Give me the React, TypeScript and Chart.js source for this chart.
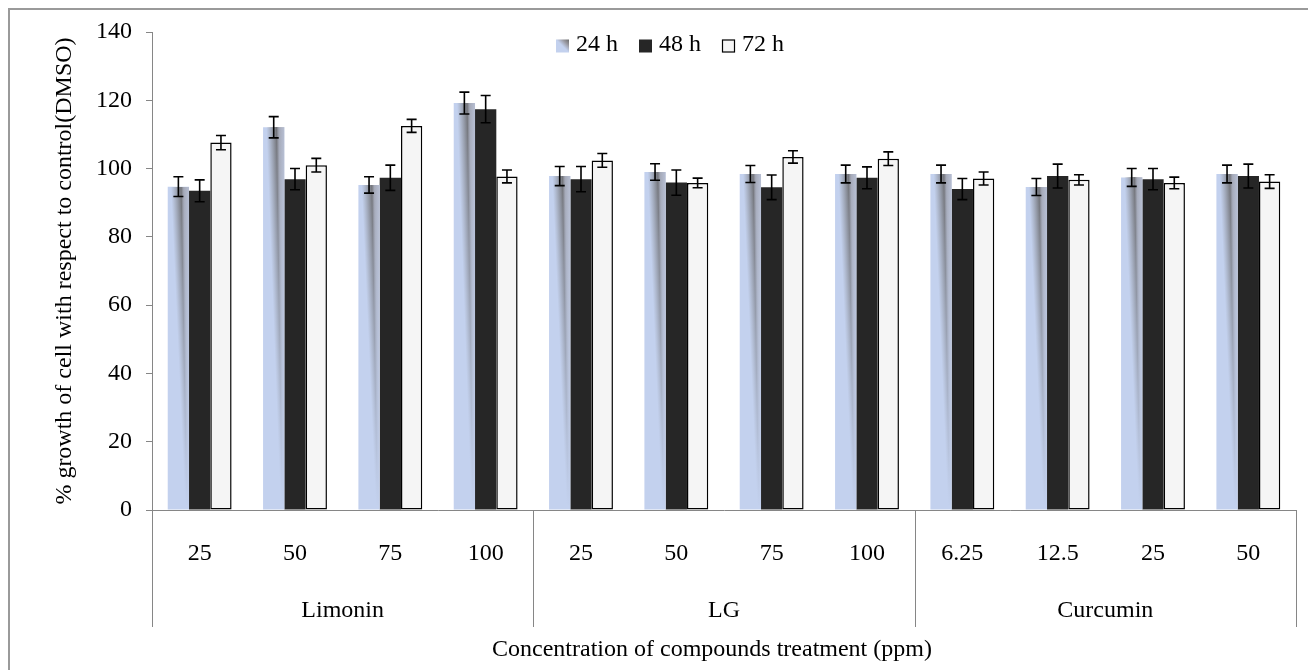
import { useEffect, useRef } from 'react';
import { Chart, registerables } from 'chart.js';

Chart.register(...registerables);

// ---------------- data ----------------
const groupNames = ['Limonin', 'LG', 'Curcumin'];
const groupSizes = [4, 4, 4];
const concentrations = ['25', '50', '75', '100', '25', '50', '75', '100', '6.25', '12.5', '25', '50'];
const seriesLabels = ['24 h', '48 h', '72 h'];

const values24 = [94.7, 112.1, 95.2, 119.2, 97.8, 99.0, 98.4, 98.4, 98.4, 94.6, 97.4, 98.4];
const errors24 = [2.9, 3.1, 2.4, 3.2, 2.8, 2.4, 2.5, 2.6, 2.6, 2.5, 2.6, 2.6];
const values48 = [93.5, 96.9, 97.3, 117.4, 96.9, 95.9, 94.5, 97.3, 94.0, 97.8, 96.9, 97.8];
const errors48 = [3.2, 3.1, 3.7, 4.0, 3.7, 3.7, 3.6, 3.2, 3.1, 3.5, 3.1, 3.5];
const values72 = [107.6, 101.0, 112.5, 97.7, 102.4, 95.8, 103.4, 102.9, 97.1, 96.7, 95.8, 96.2];
const errors72 = [2.1, 2.0, 1.9, 1.9, 2.0, 1.4, 1.8, 2.0, 1.9, 1.5, 1.7, 2.0];

const yMin = 0;
const yMax = 140;
const yStep = 20;

const xAxisTitle = 'Concentration of compounds treatment (ppm)';
const yAxisTitle = '% growth of cell with respect to control(DMSO)';

// ---------------- styles ----------------
const FONT = "'Liberation Serif', 'Times New Roman', serif";
const FONT_SIZE = 24;
const AXIS_GREY = '#868686';
const BLUE = '#c3d1ee';
const DARK = '#262626';
const WHITE = '#f5f5f5';

const errorSets = [errors24, errors48, errors72];
const valueSets = [values24, values48, values72];

function drawSwatch(ctx: CanvasRenderingContext2D, i: number, x: number, y: number, s: number) {
  if (i === 0) {
    const g = ctx.createLinearGradient(x, y + s, x + s, y);
    g.addColorStop(0, BLUE);
    g.addColorStop(0.5, BLUE);
    g.addColorStop(0.75, '#9a9aa2');
    g.addColorStop(1, '#6a6a6a');
    ctx.fillStyle = g;
    ctx.fillRect(x, y, s, s);
  } else if (i === 1) {
    ctx.fillStyle = DARK;
    ctx.fillRect(x, y, s, s);
  } else {
    ctx.fillStyle = WHITE;
    ctx.fillRect(x, y, s, s);
    ctx.strokeStyle = '#000';
    ctx.lineWidth = 1.2;
    ctx.strokeRect(x + 0.5, y + 0.5, s - 1, s - 1);
  }
}

const customPlugin = {
  id: 'customDraw',
  afterDatasetsDraw(chart: any) {
    const ctx: CanvasRenderingContext2D = chart.ctx;
    const yScale = chart.scales.y;

    // gradient shading on the 24 h bars
    const meta0 = chart.getDatasetMeta(0);
    meta0.data.forEach((el: any) => {
      const { x, y, base, width } = el.getProps(['x', 'y', 'base', 'width'], true);
      const left = x - width / 2;
      const top = Math.round(y);
      const bottom = Math.round(base);
      const h = bottom - top;
      ctx.save();
      for (let yy = top; yy < bottom; yy++) {
        const t = (yy - top) / h;
        const a = 0.9 * Math.pow(1 - t, 1.1);
        if (a <= 0.01) break;
        const c = 0.63 + 0.27 * t;
        const wl = 0.4 * (1 - t) + 0.08;
        const g = ctx.createLinearGradient(left, 0, left + width, 0);
        const s0 = Math.max(0, c - wl);
        g.addColorStop(0, 'rgba(128,128,128,0)');
        g.addColorStop(s0, 'rgba(128,128,128,0)');
        g.addColorStop(c, `rgba(105,105,108,${a})`);
        const s2 = Math.min(0.999, c + 0.12);
        g.addColorStop(s2, `rgba(150,150,158,${a * 0.75})`);
        g.addColorStop(1, `rgba(172,174,186,${a * 0.6})`);
        ctx.fillStyle = g;
        ctx.fillRect(left, yy, width, 1);
      }
      ctx.restore();
    });

    // error bars
    ctx.save();
    ctx.strokeStyle = '#000';
    ctx.lineWidth = 1.6;
    for (let d = 0; d < valueSets.length; d++) {
      const meta = chart.getDatasetMeta(d);
      meta.data.forEach((el: any, j: number) => {
        const v = valueSets[d][j];
        const e = errorSets[d][j];
        const x = el.x;
        const yt = yScale.getPixelForValue(v + e);
        const yb = yScale.getPixelForValue(v - e);
        const cap = 5;
        ctx.beginPath();
        ctx.moveTo(x, yt);
        ctx.lineTo(x, yb);
        ctx.moveTo(x - cap, yt);
        ctx.lineTo(x + cap, yt);
        ctx.moveTo(x - cap, yb);
        ctx.lineTo(x + cap, yb);
        ctx.stroke();
      });
    }
    ctx.restore();
  },
  afterDraw(chart: any) {
    const ctx: CanvasRenderingContext2D = chart.ctx;
    const xScale = chart.scales.x;
    const area = chart.chartArea;
    const n = concentrations.length;
    const cw = (xScale.right - xScale.left) / n;

    ctx.save();
    // group separators
    ctx.strokeStyle = AXIS_GREY;
    ctx.lineWidth = 1;
    let idx = 0;
    const bounds = [0];
    groupSizes.forEach((s) => {
      idx += s;
      bounds.push(idx);
    });
    bounds.forEach((b) => {
      const px = Math.round(xScale.left + b * cw) + 0.5;
      ctx.beginPath();
      ctx.moveTo(px, area.bottom);
      ctx.lineTo(px, area.bottom + 117);
      ctx.stroke();
    });

    // group labels
    ctx.fillStyle = '#000';
    ctx.font = `${FONT_SIZE}px ${FONT}`;
    ctx.textAlign = 'center';
    ctx.textBaseline = 'alphabetic';
    groupNames.forEach((name, gi) => {
      const start = bounds[gi];
      const end = bounds[gi + 1] - 1;
      const cx = (xScale.getPixelForValue(start) + xScale.getPixelForValue(end)) / 2;
      ctx.fillText(name, cx, area.bottom + 107);
    });

    // x axis title
    ctx.fillText(xAxisTitle, (area.left + area.right) / 2 - 12, area.bottom + 146);

    // legend (drawn inside the plot area, as in the reference)
    const box = 13;
    const gapBoxText = 7;
    const gapItems = 21;
    const widths = seriesLabels.map((l) => ctx.measureText(l).width);
    const total = widths.reduce((s, w) => s + box + gapBoxText + w, 0) + gapItems * (seriesLabels.length - 1);
    let lx = chart.width / 2 + 7 - total / 2;
    const ly = area.top + 13;
    ctx.textAlign = 'left';
    ctx.textBaseline = 'middle';
    seriesLabels.forEach((l, i) => {
      drawSwatch(ctx, i, lx, ly - box / 2 + 1, box);
      ctx.fillStyle = '#000';
      ctx.fillText(l, lx + box + gapBoxText, ly);
      lx += box + gapBoxText + widths[i] + gapItems;
    });
    ctx.restore();
  },
};

export default function App() {
  const canvasRef = useRef<HTMLCanvasElement | null>(null);

  useEffect(() => {
    document.body.style.overflow = 'hidden';
    const canvas = canvasRef.current;
    if (!canvas) return;
    Chart.defaults.font.family = FONT;
    Chart.defaults.font.size = FONT_SIZE;
    Chart.defaults.color = '#000';

    const chart = new Chart(canvas, {
      type: 'bar',
      data: {
        labels: concentrations,
        datasets: [
          {
            label: seriesLabels[0],
            data: values24,
            backgroundColor: BLUE,
            borderWidth: 0,
          },
          {
            label: seriesLabels[1],
            data: values48,
            backgroundColor: DARK,
            borderWidth: 0,
          },
          {
            label: seriesLabels[2],
            data: values72,
            backgroundColor: WHITE,
            borderColor: '#000',
            borderWidth: 1.5,
            borderSkipped: false,
          },
        ],
      },
      options: {
        responsive: false,
        animation: false,
        devicePixelRatio: 1,
        layout: { autoPadding: false, padding: { top: 22, right: 20, left: 0, bottom: 0 } },
        datasets: {
          bar: { categoryPercentage: 0.67, barPercentage: 1.0 },
        },
        plugins: {
          legend: { display: false },
          tooltip: { enabled: false },
        },
        scales: {
          x: {
            type: 'category',
            grid: { display: false, drawTicks: false },
            border: { display: true, color: AXIS_GREY, width: 1 },
            ticks: {
              font: { family: FONT, size: FONT_SIZE },
              color: '#000',
              padding: 29,
              maxRotation: 0,
              autoSkip: false,
            },
            afterFit: (s: any) => {
              s.height = 160;
              s.paddingLeft = 0;
              s.paddingRight = 0;
            },
          },
          y: {
            min: yMin,
            max: yMax,
            ticks: {
              stepSize: yStep,
              font: { family: FONT, size: FONT_SIZE },
              color: '#000',
              padding: 14,
            },
            grid: {
              drawOnChartArea: false,
              drawTicks: true,
              tickLength: 6,
              color: AXIS_GREY,
            },
            border: { display: true, color: AXIS_GREY, width: 1 },
            title: {
              display: true,
              text: yAxisTitle,
              font: { family: FONT, size: FONT_SIZE },
              color: '#000',
              padding: { top: 40, bottom: 0 },
            },
            afterFit: (s: any) => {
              s.width = 142;
              s.paddingTop = 0;
              s.paddingBottom = 0;
            },
          },
        },
      },
      plugins: [customPlugin],
    } as any);

    return () => {
      chart.destroy();
    };
  }, []);

  return (
    <div
      style={{
        width: 1306,
        height: 660,
        border: '2px solid #9a9a9a',
        background: '#fff',
      }}
    >
      <canvas ref={canvasRef} width={1306} height={660} style={{ display: 'block', width: 1306, height: 660 }} />
    </div>
  );
}
